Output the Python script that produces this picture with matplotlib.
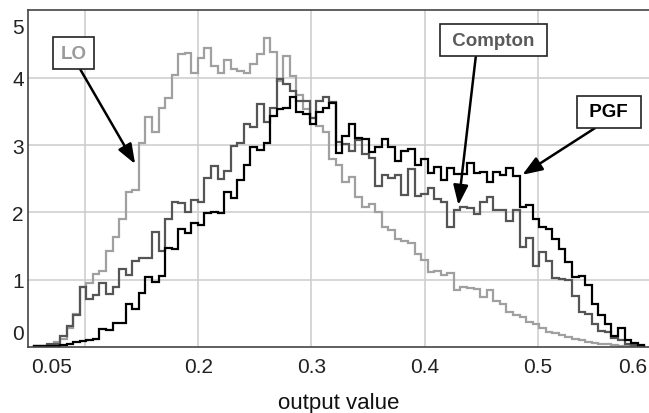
import numpy as np
import matplotlib
matplotlib.use("Agg")
import matplotlib.pyplot as plt

plt.rcParams['font.family'] = ['Liberation Sans', 'DejaVu Sans']

# histogram binning (93 equal bins)
bin_lo = 0.05486
bin_hi = 0.5938
n_bins = 93

lo_vals = [0.01, 0.02, 0.03, 0.07, 0.12, 0.28, 0.49, 0.89, 0.95, 1.09,
           1.13, 1.43, 1.63, 1.91, 2.31, 2.33, 3.04, 3.42, 3.19, 3.55,
           3.70, 4.04, 4.36, 4.37, 4.08, 4.29, 4.44, 4.18, 4.07, 4.26,
           4.14, 4.11, 4.08, 4.21, 4.36, 4.60, 4.38, 3.95, 4.33, 4.03,
           3.75, 3.54, 3.41, 3.29, 3.19, 2.80, 2.70, 2.45, 2.52, 2.23,
           2.08, 2.13, 2.01, 1.78, 1.74, 1.61, 1.58, 1.55, 1.39, 1.29,
           1.12, 1.13, 1.07, 1.10, 0.84, 0.89, 0.87, 0.86, 0.74, 0.84,
           0.69, 0.64, 0.52, 0.47, 0.44, 0.37, 0.34, 0.28, 0.23, 0.21,
           0.18, 0.15, 0.12, 0.11, 0.07, 0.06, 0.04, 0.04, 0.03, 0.02,
           0.02, 0.01, 0.01]

compton_vals = [0.01, 0.02, 0.04, 0.05, 0.17, 0.31, 0.47, 0.89, 0.71, 0.77,
                0.95, 0.79, 0.89, 1.16, 1.07, 1.28, 1.33, 1.33, 1.71, 1.42,
                1.90, 2.15, 2.14, 2.00, 2.18, 2.16, 2.51, 2.69, 2.50, 2.61,
                2.99, 3.03, 3.32, 3.27, 3.61, 3.34, 3.56, 3.99, 3.91, 3.81,
                3.66, 3.66, 3.40, 3.66, 3.72, 3.64, 3.05, 3.02, 2.92, 3.07,
                2.87, 2.81, 2.39, 2.55, 2.51, 2.55, 2.26, 2.64, 2.25, 2.28,
                2.36, 2.20, 2.16, 1.78, 2.03, 2.08, 2.06, 1.98, 2.15, 2.23,
                2.03, 2.04, 1.88, 2.03, 1.48, 1.62, 1.21, 1.41, 1.28, 1.02,
                1.01, 1.00, 0.76, 0.52, 0.49, 0.34, 0.24, 0.22, 0.14, 0.10,
                0.05, 0.03, 0.01]

pgf_vals = [0.01, 0.01, 0.02, 0.02, 0.03, 0.04, 0.08, 0.09, 0.11, 0.12,
            0.27, 0.25, 0.36, 0.35, 0.64, 0.57, 0.81, 1.04, 0.96, 1.05,
            1.47, 1.46, 1.75, 1.70, 1.85, 1.81, 1.99, 2.00, 1.99, 2.30,
            2.22, 2.49, 2.70, 2.98, 2.93, 3.03, 3.43, 3.54, 3.55, 3.71,
            3.49, 3.46, 3.32, 3.49, 3.56, 3.62, 2.88, 3.13, 3.32, 3.10,
            3.09, 2.90, 2.97, 3.09, 2.97, 2.76, 2.92, 2.95, 2.71, 2.79,
            2.58, 2.67, 2.48, 2.66, 2.57, 2.57, 2.74, 2.59, 2.60, 2.45,
            2.60, 2.56, 2.66, 2.54, 2.08, 2.11, 1.90, 1.78, 1.75, 1.61,
            1.45, 1.27, 1.04, 1.05, 0.92, 0.64, 0.48, 0.34, 0.17, 0.28,
            0.10, 0.06, 0.03]

x_range = (0.0497, 0.598)
y_range = (0, 5.01)
xtick_values = [0.1, 0.2, 0.3, 0.4, 0.5]
xtick_labels = ['', '0.2', '0.3', '0.4', '0.5']
ytick_values = [1, 2, 3, 4]
ytick_labels = ['1', '2', '3', '4']

# annotation boxes: label, text colour, box centre, arrow tip, arrow start on box
notes = [
    ('LO', '#9a9a9a', (0.090, 4.37), (0.1443, 2.72), 0.58),
    (' Compton ', '#5a5a5a', (0.4606, 4.56), (0.4297, 2.11), 0.32),
    (' PGF ', 'black', (0.5626, 3.50), (0.4862, 2.56), 0.47),
]

edges = np.linspace(bin_lo, bin_hi, n_bins + 1)

fig = plt.figure(figsize=(6.49, 4.14), dpi=100)
ax = fig.add_axes([28 / 649, 1 - 348 / 414, 1 - 28 / 649, (348 - 11) / 414])

ax.stairs(lo_vals, edges, color='#a0a0a0', lw=1.6)
ax.stairs(compton_vals, edges, color='#555555', lw=1.6)
ax.stairs(pgf_vals, edges, color='black', lw=1.6)

ax.set_xlim(*x_range)
ax.set_ylim(*y_range)
ax.set_xticks(xtick_values)
ax.set_xticklabels(xtick_labels)
ax.set_yticks(ytick_values)
ax.set_yticklabels(ytick_labels)
ax.tick_params(axis='both', length=0, labelsize=15, colors='#222222')
ax.tick_params(axis='x', pad=7)
ax.tick_params(axis='y', pad=3)
ax.grid(True, color='#cccccc', lw=1.1)
ax.set_axisbelow(True)

for side in ['left', 'top', 'bottom']:
    ax.spines[side].set_color('#444444')
    ax.spines[side].set_linewidth(1.2)
ax.spines['right'].set_visible(False)

# end labels of the axes
ax.annotate(f'{x_range[0]:.2f}', xy=(0, 0), xycoords='axes fraction',
            xytext=(2, -7), textcoords='offset points', ha='left', va='top',
            fontsize=15, color='#222222')
ax.annotate(f'{x_range[1]:.1f}', xy=(1, 0), xycoords='axes fraction',
            xytext=(-1, -7), textcoords='offset points', ha='right', va='top',
            fontsize=15, color='#222222')
ax.annotate(f'{y_range[1]:.0f}', xy=(0, 1), xycoords='axes fraction',
            xytext=(-3, -12.5), textcoords='offset points', ha='right', va='center',
            fontsize=15, color='#222222')
ax.annotate(f'{y_range[0]:.0f}', xy=(0, 0), xycoords='axes fraction',
            xytext=(-3, 9.4), textcoords='offset points', ha='right', va='center',
            fontsize=15, color='#222222')

ax.set_xlabel('output value', fontsize=16, labelpad=12, color='#111111')

for label, tcolor, box_xy, tip_xy, rel in notes:
    ax.annotate(label, xy=tip_xy, xytext=box_xy, ha='center', va='center',
                fontsize=13.5, fontweight='bold', color=tcolor,
                bbox=dict(boxstyle='square,pad=0.4', fc='white', ec='#222222', lw=1.2),
                arrowprops=dict(arrowstyle='-|>,head_length=0.8,head_width=0.3',
                                mutation_scale=15, color='black', lw=1.8,
                                shrinkA=0, shrinkB=0, relpos=(rel, 0)))

fig.savefig('out.png', dpi=100)
